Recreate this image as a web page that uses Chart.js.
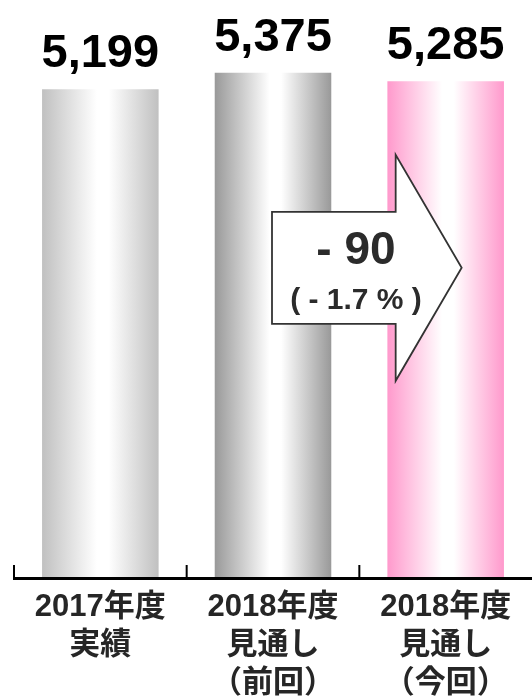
<!DOCTYPE html>
<html>
<head>
<meta charset="utf-8">
<script src="https://cdn.jsdelivr.net/npm/chart.js@4"></script>
<style>
html, body { margin: 0; padding: 0; background: #fff; }
#wrap { width: 532px; height: 696px; }
</style>
</head>
<body>
<div id="wrap"><canvas id="myChart" width="532" height="696"></canvas></div>
<script>
var labels = [['2017年度', '実績'], ['2018年度', '見通し', '（前回）'], ['2018年度', '見通し', '（今回）']];
var values = [5199, 5375, 5285];
var edgeColors = ['#c0c0c0', '#999999', '#ff99cc'];
var yMax = 6000;

var fontLatin = '"Liberation Sans", Arial, "Noto Sans CJK JP", sans-serif';

// gradient per bar: edge colour -> white -> edge colour
function barFill(ctx) {
    var chart = ctx.chart;
    var c = edgeColors[ctx.dataIndex] || edgeColors[0];
    if (ctx.type !== 'data' || !chart.scales.x) return c;
    var xs = chart.scales.x;
    var cx = xs.getPixelForValue(ctx.dataIndex);
    var w = xs.width / labels.length * 0.675;
    if (!isFinite(cx) || !isFinite(w) || w <= 0) return c;
    var g = chart.ctx.createLinearGradient(cx - w / 2, 0, cx + w / 2, 0);
    g.addColorStop(0, c);
    g.addColorStop(0.47, '#ffffff');
    g.addColorStop(0.57, '#ffffff');
    g.addColorStop(1, c);
    return g;
}

var axisPlugin = {
    id: 'axisPlugin',
    afterDatasetsDraw: function(chart) {
        var c = chart.ctx, xs = chart.scales.x, area = chart.chartArea;
        var step = xs.width / labels.length;
        c.save();
        c.strokeStyle = '#000';
        c.lineWidth = 3;
        c.beginPath();
        c.moveTo(area.left - 1, area.bottom + 0.5);
        c.lineTo(chart.width, area.bottom + 0.5);
        c.stroke();
        c.lineWidth = 2;
        for (var i = 0; i < labels.length; i++) {
            var x = xs.getPixelForValue(i) - step / 2;
            c.beginPath();
            c.moveTo(x, area.bottom);
            c.lineTo(x, area.bottom - 13);
            c.stroke();
        }
        c.restore();
    }
};

var valuePlugin = {
    id: 'valuePlugin',
    afterDatasetsDraw: function(chart) {
        var c = chart.ctx;
        var meta = chart.getDatasetMeta(0);
        c.save();
        c.fillStyle = '#000';
        c.font = 'bold 47px ' + fontLatin;
        c.textAlign = 'center';
        c.textBaseline = 'alphabetic';
        meta.data.forEach(function(bar, i) {
            c.fillText(values[i].toLocaleString('en-US'), bar.x, bar.y - 22);
        });
        c.restore();
    }
};

var arrowPlugin = {
    id: 'arrowPlugin',
    afterDatasetsDraw: function(chart) {
        var c = chart.ctx, xs = chart.scales.x, ys = chart.scales.y;
        var x1 = xs.getPixelForValue(1), x2 = xs.getPixelForValue(2);
        var cy = ys.getPixelForValue(3300);
        var left = x1 - 1, neck = x2 - 50, tip = x2 + 16;
        c.save();
        c.beginPath();
        c.moveTo(left, cy - 56);
        c.lineTo(neck, cy - 56);
        c.lineTo(neck, cy - 113);
        c.lineTo(tip, cy);
        c.lineTo(neck, cy + 113);
        c.lineTo(neck, cy + 56);
        c.lineTo(left, cy + 56);
        c.closePath();
        c.fillStyle = '#fff';
        c.fill();
        c.strokeStyle = '#333';
        c.lineWidth = 1.8;
        c.stroke();

        var diff = values[2] - values[1];
        var pct = diff / values[1] * 100;
        var sign = diff < 0 ? '- ' : '+ ';
        c.fillStyle = '#2b2b2b';
        c.textAlign = 'center';
        c.textBaseline = 'middle';
        c.font = 'bold 46px ' + fontLatin;
        c.fillText(sign + Math.abs(diff), left + 84, cy - 16);
        c.font = 'bold 30px ' + fontLatin;
        c.fillText('( ' + sign + Math.abs(pct).toFixed(1) + ' % )', left + 84, cy + 33);
        c.restore();
    }
};

var ctx = document.getElementById('myChart');

var myChart = new Chart(ctx, {
    type: 'bar',
    data: {
        labels: labels,
        datasets: [{
            data: values,
            backgroundColor: barFill,
            borderWidth: 0,
            barPercentage: 0.675,
            categoryPercentage: 1
        }]
    },
    options: {
        responsive: false,
        devicePixelRatio: 1,
        animation: false,
        layout: {
            padding: {left: 14, right: 0, top: 14, bottom: 0}
        },
        scales: {
            x: {
                grid: {display: false, drawTicks: false},
                border: {display: false},
                ticks: {
                    padding: 10,
                    color: '#262626',
                    maxRotation: 0,
                    autoSkip: false,
                    font: {family: fontLatin, size: 31, weight: 'bold', lineHeight: 38 / 31}
                },
                afterFit: function(scale) { scale.height = 118; }
            },
            y: {
                display: false,
                min: 0,
                max: yMax
            }
        },
        plugins: {
            legend: {display: false},
            tooltip: {enabled: false}
        }
    },
    plugins: [axisPlugin, valuePlugin, arrowPlugin]
});
</script>
</body>
</html>
